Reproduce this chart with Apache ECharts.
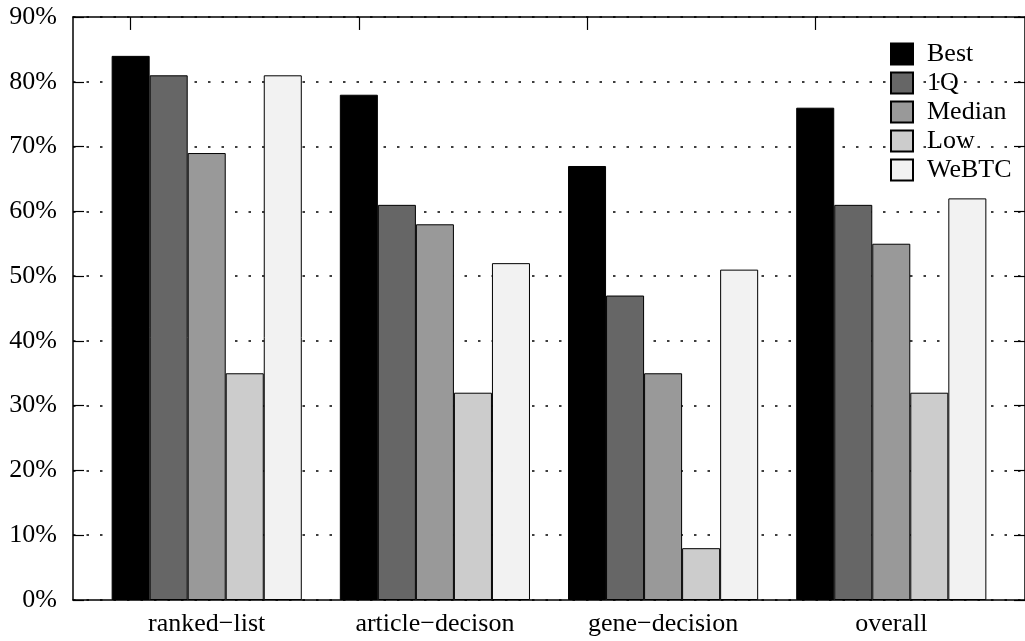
<!DOCTYPE html>
<html>
<head>
<meta charset="utf-8">
<script src="https://cdn.jsdelivr.net/npm/echarts@6/dist/echarts.min.js"></script>
<style>html,body{margin:0;padding:0;background:#fff;}#c{width:1025px;height:641px;}</style>
</head>
<body>
<div id="c"></div>
<script>
const categories = ['ranked\u2212list', 'article\u2212decison', 'gene\u2212decision', 'overall'];
const seriesNames = ['Best', '1Q', 'Median', 'Low', 'WeBTC'];
const best = [84, 78, 67, 76];
const q1 = [81, 61, 47, 61];
const median = [69, 58, 35, 55];
const low = [35, 32, 8, 32];
const webtc = [81, 52, 51, 62];
const colors = ['#000000', '#666666', '#999999', '#cccccc', '#f2f2f2'];

const values = [best, q1, median, low, webtc];
const catIdx = categories.map((c, i) => i);
const FONT = '"Liberation Serif", "DejaVu Serif", serif';
const xMin = -0.586, xMax = 3.586;
const yMin = 0, yMax = 90;
const topTickLen = 2; // in axis units (about 13 px)

const chart = echarts.init(document.getElementById('c'), null, {renderer: 'canvas'});
const lineStyle = {color: '#000', width: 1.5};
const tickStyle = {color: '#000', width: 1.2};
const yBase = {
  type: 'value', min: yMin, max: yMax, interval: 10,
  axisLine: {show: true, onZero: false, lineStyle: lineStyle},
  axisTick: {show: true, inside: true, length: 11, lineStyle: tickStyle},
};
chart.setOption({
  animation: false,
  backgroundColor: '#fff',
  textStyle: {fontFamily: FONT},
  grid: {left: 73, right: -9, top: 17, bottom: 41, containLabel: false},
  legend: {
    orient: 'vertical', left: 890, top: 41, padding: 0,
    itemWidth: 22, itemHeight: 21, itemGap: 3,
    icon: 'rect',
    data: seriesNames,
    textStyle: {fontFamily: FONT, fontSize: 26, color: '#000', padding: [0, 0, 0, 9]}
  },
  xAxis: [
    {
      type: 'value', min: xMin, max: xMax, position: 'bottom',
      splitLine: {show: false},
      axisLine: {show: true, onZero: false, lineStyle: lineStyle},
      axisTick: {show: true, inside: true, length: 13, customValues: catIdx.slice(), lineStyle: tickStyle},
      axisLabel: {show: true, customValues: catIdx.slice(), margin: 11, fontFamily: FONT, fontSize: 26, color: '#000',
        formatter: v => categories[Math.round(v)] || ''}
    },
    {
      type: 'value', min: xMin, max: xMax, position: 'top',
      splitLine: {show: false},
      axisLine: {show: true, onZero: false, lineStyle: lineStyle},
      axisTick: {show: false},
      axisLabel: {show: false}
    }
  ],
  yAxis: [
    Object.assign({}, yBase, {
      position: 'left',
      axisLabel: {show: true, margin: 16, fontFamily: FONT, fontSize: 26, color: '#000',
        padding: [6, 0, 0, 0], formatter: v => v + '%'},
      splitLine: {show: true, lineStyle: {color: '#000', width: 1.6, type: [2.5, 11]}}
    }),
    Object.assign({}, yBase, {position: 'right', axisLabel: {show: false}, splitLine: {show: false}})
  ],
  series: seriesNames.map((name, s) => {
    const ser = {
      name: name,
      type: 'bar',
      xAxisIndex: 0, yAxisIndex: 0,
      barGap: '0%',
      barCategoryGap: '16.67%',
      z: 3,
      itemStyle: {color: colors[s], borderColor: '#000', borderWidth: 1},
      data: values[s].map((v, i) => [catIdx[i], v])
    };
    if (s === 0) {
      ser.markLine = {
        silent: true, symbol: 'none', animation: false,
        label: {show: false},
        lineStyle: {color: '#000', width: 1.2, type: 'solid'},
        emphasis: {disabled: true},
        data: catIdx.map(i => [{coord: [i, yMax]}, {coord: [i, yMax - topTickLen]}])
      };
    }
    return ser;
  })
});
</script>
</body>
</html>
